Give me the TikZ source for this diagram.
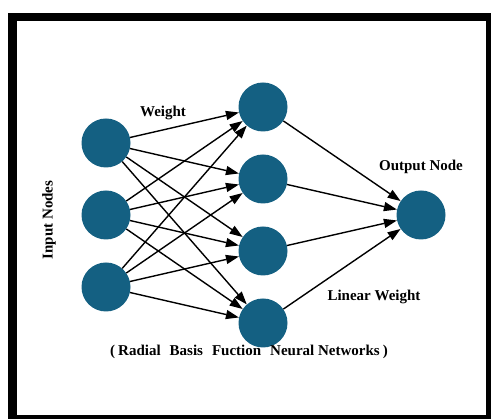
\documentclass[tikz,border=0pt]{standalone}
\usepackage{fontspec}
\setmainfont{Liberation Serif}
\usetikzlibrary{arrows.meta}
\definecolor{nodeblue}{RGB}{20,96,130}
\tikzset{
  neuron/.style={circle,fill=nodeblue,minimum size=49pt,inner sep=0pt,draw=none},
  conn/.style={line width=1.4pt,-{Triangle[length=13pt,width=9pt]}},
  lbl/.style={font=\fontsize{15}{18}\selectfont\bfseries,inner sep=0pt}
}
\begin{document}
\begin{tikzpicture}[x=1pt,y=-1pt]
\useasboundingbox (0,0) rectangle (491,419);
\fill[black] (8,13) rectangle (491,419);
\fill[white] (16.5,21.5) rectangle (486,415);
\node[neuron] (i1) at (106,143) {};
\node[neuron] (i2) at (106,215) {};
\node[neuron] (i3) at (106,287) {};
\node[neuron] (h1) at (263,107) {};
\node[neuron] (h2) at (263,179) {};
\node[neuron] (h3) at (263,251) {};
\node[neuron] (h4) at (263,323) {};
\node[neuron] (o) at (421,215) {};
\foreach \i in {i1,i2,i3}{
  \foreach \h in {h1,h2,h3,h4}{
    \draw[conn] (\i) -- (\h);
  }
}
\foreach \h in {h1,h2,h3,h4}{
  \draw[conn] (\h) -- (o);
}
\node[lbl] (wt) at (163,113) {Weight};
\node[lbl,rotate=90] (in) at (49,220) {Input Nodes};
\node[lbl] (on) at (421,167) {Output Node};
\node[lbl] (lw) at (374,297) {Linear Weight};
\node[lbl] (cap) at (249,352) {(\hspace{3pt}Radial\hspace{9pt}Basis\hspace{9pt}Fuction\hspace{9pt}Neural Networks\hspace{3pt})};
\end{tikzpicture}
\end{document}
